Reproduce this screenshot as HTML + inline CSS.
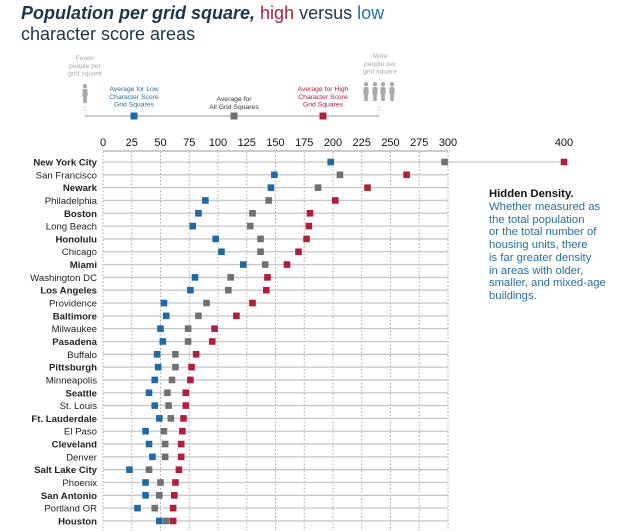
<!DOCTYPE html>
<html><head><meta charset="utf-8"><style>
body{margin:0;background:#fff;width:620px;height:531px;overflow:hidden;font-family:"Liberation Sans",sans-serif;}
#title{position:absolute;left:21px;top:3px;font-size:18px;line-height:21px;color:#1d3547;}
#note{position:absolute;left:489px;top:188px;white-space:nowrap;font-size:11.3px;line-height:12.75px;color:#2a6f9e;}
</style></head><body>
<div id="title"><b><i>Population per grid square,</i></b> <span style="color:#a8233f">high</span> versus <span style="color:#2a6f9e">low</span><br>character score areas</div>
<div id="note"><b style="color:#111">Hidden Density.</b><br>Whether measured as<br>the total population<br>or the total number of<br>housing units, there<br>is far greater density<br>in areas with older,<br>smaller, and mixed-age<br>buildings.</div>
<svg id="c" width="620" height="531" style="position:absolute;left:0;top:0"></svg>
<script>
const cities=["New York City","San Francisco","Newark","Philadelphia","Boston","Long Beach","Honolulu","Chicago","Miami","Washington DC","Los Angeles","Providence","Baltimore","Milwaukee","Pasadena","Buffalo","Pittsburgh","Minneapolis","Seattle","St. Louis","Ft. Lauderdale","El Paso","Cleveland","Denver","Salt Lake City","Phoenix","San Antonio","Portland OR","Houston"];
const lowVals=[198,149,146,89,83,78,98,103,122,80,76,53,55,50,52,47,48,45,40,45,49,37,40,43,23,37,37,30,49];
const allVals=[297,206,187,144,130,128,137,137,141,111,109,90,83,74,74,63,63,60,56,57,59,53,54,54,40,50,49,45,55];
const highVals=[400,264,230,202,180,179,177,170,160,143,142,130,116,97,95,81,77,76,72,72,70,69,68,68,66,63,62,61,61];
const ticks=[0,25,50,75,100,125,150,175,200,225,250,275,300,400];
const NS="http://www.w3.org/2000/svg";
const svg=document.getElementById('c');
function x(v){return v<=300?103+v*1.15:448+(v-300)*1.16;}
function y(i){return 162+i*12.82;}
function mk(t,a,txt){const e=document.createElementNS(NS,t);for(const k in a)e.setAttribute(k,a[k]);if(txt!==undefined)e.textContent=txt;svg.appendChild(e);return e;}
let e;
e=mk('line',{x1:85,y1:116,x2:379,y2:116,stroke:'#bbb','stroke-width':1.5});

[[134,'#1f6aa5'],[234,'#707070'],[323,'#b01e3c']].forEach((m,i)=>{e=mk('rect',{x:m[0]-3.5,y:112.5,width:7,height:7,fill:m[1]});});
[[85,106],[379,106]].forEach(p=>mk('line',{x1:p[0],y1:p[1],x2:p[0],y2:114,stroke:'#bbb','stroke-dasharray':'1.5,2'}));
const lt=[[85,['Fewer','people per','grid square'],60,'#aaa'],[134,['Average for Low','Character Score','Grid Squares'],91,'#2a6f9e'],[234,['Average for','All Grid Squares'],101,'#333'],[323,['Average for High','Character Score','Grid Squares'],91,'#a8233f'],[380,['More','people per','grid square'],58,'#aaa']];
lt.forEach(l=>{l[1].forEach((s,j)=>{e=mk('text',{x:l[0],y:l[2]+j*7.8,'font-size':6.8,'text-anchor':'middle',fill:l[3]},s);});});
function person(cx,top){mk('circle',{cx:cx,cy:top+2.2,r:2.2,fill:'#aaa'});mk('rect',{x:cx-2.6,y:top+5,width:5.2,height:8,rx:1.8,fill:'#aaa'});mk('rect',{x:cx-1.8,y:top+12,width:3.6,height:7,fill:'#aaa'});}
person(85,84);[366,375,383,392].forEach(c=>person(c,82));
ticks.forEach(t=>{e=mk('text',{x:x(t),y:146,'font-size':11,'text-anchor':'middle',fill:'#111'},String(t));
 if(t<=300)mk('line',{x1:x(t),y1:152,x2:x(t),y2:531,stroke:'#aaa','stroke-dasharray':'1.5,2'});});
mk('line',{x1:103,y1:151,x2:448,y2:151,stroke:'#bbb','stroke-width':1.5});
cities.forEach((c,i)=>{
 const yy=y(i);
 e=mk('line',{x1:103,y1:yy,x2:i==0?x(highVals[i]):448,y2:yy,stroke:'#c8c8c8','stroke-width':1.3});
 
 e=mk('text',{x:97,y:yy+3.5,'font-size':9.6,'text-anchor':'end',fill:'#222','font-weight':i%2==0?'bold':'normal'},c);
 
 [[allVals,'#707070'],[lowVals,'#1f6aa5'],[highVals,'#b01e3c']].forEach(s=>{
  e=mk('rect',{x:x(s[0][i])-3.3,y:yy-3.3,width:6.6,height:6.6,fill:s[1]});
  
 });
});
</script>
</body></html>
